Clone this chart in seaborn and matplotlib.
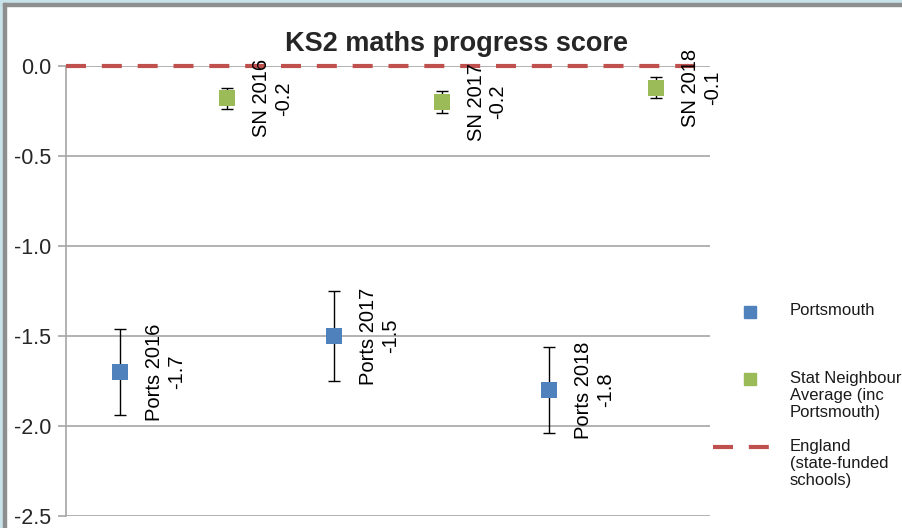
import numpy as np
import pandas as pd
import matplotlib.pyplot as plt
import seaborn as sns
from matplotlib.lines import Line2D
from matplotlib.patches import Rectangle

# --- data ---
categories = ["Ports 2016", "SN 2016", "Ports 2017", "SN 2017", "Ports 2018", "SN 2018"]
series = ["Portsmouth", "Stat Neighbour", "Portsmouth", "Stat Neighbour", "Portsmouth", "Stat Neighbour"]
scores = [-1.70, -0.18, -1.50, -0.20, -1.80, -0.12]
ci_half = [0.24, 0.06, 0.25, 0.06, 0.24, 0.06]
england_score = 0.0

legend_labels = ["Portsmouth", "Stat Neighbour\nAverage (inc\nPortsmouth)", "England\n(state-funded\nschools)"]
y_ticks = [0.0, -0.5, -1.0, -1.5, -2.0, -2.5]

BLUE = "#4F81BD"
GREEN = "#9BBB59"
RED = "#C0504D"
GRID = "#A6A6A6"

sns.set_theme(style="white")
plt.rcParams['font.family'] = ['Liberation Sans', 'DejaVu Sans']

df = pd.DataFrame({
    'category': categories,
    'series': series,
    'score': scores,
    'err': ci_half,
})
df['pos'] = np.arange(len(df))

fig = plt.figure(figsize=(9.02, 5.28), dpi=100)
fig.patch.set_facecolor('white')
ax = fig.add_axes([0.0736, 0.0227, 0.7131, 0.8523])

# frame strips like the original screenshot
fig.patches.append(Rectangle((0, 1 - 3 / 528), 1, 3 / 528, transform=fig.transFigure, color="#C8E2EA", zorder=0))
fig.patches.append(Rectangle((0, 0), 3 / 902, 1, transform=fig.transFigure, color="#C8E2EA", zorder=0))
fig.patches.append(Rectangle((3 / 902, 1 - 6 / 528), 1, 3 / 528, transform=fig.transFigure, color="#8E8E8E", zorder=0))
fig.patches.append(Rectangle((3 / 902, 0), 3 / 902, 1 - 3 / 528, transform=fig.transFigure, color="#8E8E8E", zorder=0))

# horizontal gridlines
for t in y_ticks:
    ax.axhline(t, color=GRID, lw=1.2, zorder=1)

# England reference line
ax.axhline(england_score, color=RED, lw=3, dashes=(4.8, 3.8), zorder=3, clip_on=False)

# error bars then markers
ax.errorbar(df['pos'], df['score'], yerr=df['err'], fmt='none', ecolor='black',
            elinewidth=1, capsize=4, capthick=1, zorder=4)
sns.scatterplot(data=df, x='pos', y='score', hue='series',
                palette={"Portsmouth": BLUE, "Stat Neighbour": GREEN},
                marker='s', s=130, linewidth=0, legend=False, ax=ax, zorder=5)

# data labels
for _, row in df.iterrows():
    ax.annotate(f"{row['category']}\n{row['score']:.1f}", (row['pos'], row['score']),
                xytext=(18, 0), textcoords='offset points', rotation=90,
                ha='left', va='center', multialignment='center',
                fontsize=14.5, color='black', zorder=6, annotation_clip=False)

ax.set_xlim(-0.5, len(categories) - 0.5)
ax.set_ylim(-2.5, 0)
ax.set_yticks(y_ticks)
ax.set_yticklabels([f"{t:.1f}" for t in y_ticks], fontsize=15.5)
ax.set_xticks([])
ax.set_xlabel('')
ax.set_ylabel('')
ax.tick_params(axis='y', left=True, length=6, width=1.2, color=GRID, pad=5)
for side in ['top', 'right', 'bottom']:
    ax.spines[side].set_visible(False)
ax.spines['left'].set_color(GRID)
ax.spines['left'].set_linewidth(1.2)
ax.patch.set_alpha(0)

fig.text(0.506, 1 - 44 / 528, "KS2 maths progress score", ha='center', va='center',
         fontsize=19.5, fontweight='bold')

# legend (drawn by hand so the key sits on the first text line)
fig.add_artist(Line2D([750 / 902], [1 - 312 / 528], marker='s', color=BLUE, markersize=8, lw=0))
fig.add_artist(Line2D([750 / 902], [1 - 379 / 528], marker='s', color=GREEN, markersize=8, lw=0))
fig.add_artist(Line2D([713 / 902, 770 / 902], [1 - 447 / 528] * 2, color=RED, lw=3, dashes=(4.8, 3.8)))
for label, ytop in zip(legend_labels, [303, 371, 439]):
    fig.text(790 / 902, 1 - ytop / 528, label, ha='left', va='top', fontsize=12,
             linespacing=1.15, color='#1A1A1A')

fig.savefig("out.png", dpi=100, facecolor='white')
